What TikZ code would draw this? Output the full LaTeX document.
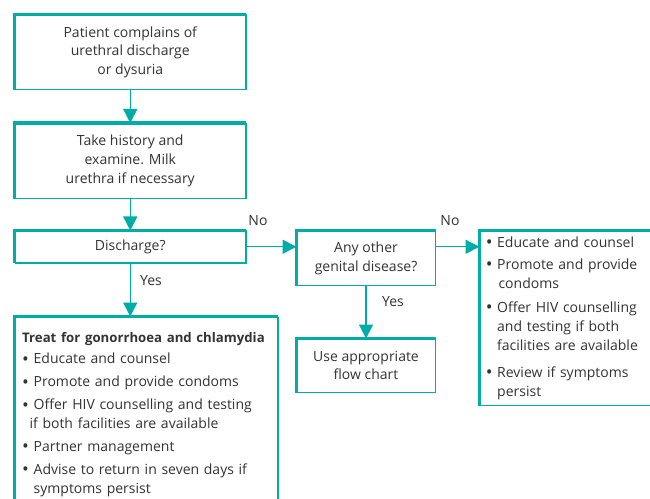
\documentclass[tikz,border=0pt]{standalone}
\usepackage{fontspec}
\setmainfont{Open Sans}
\usetikzlibrary{arrows.meta}

\definecolor{flowteal}{RGB}{0,172,168}
\definecolor{flowtext}{RGB}{51,51,51}

% larger bullet, as in the reference lists
\newcommand{\itembullet}{\raisebox{-0.9pt}{\fontsize{13.5}{14}\selectfont\textbullet}}

\begin{document}
\begin{tikzpicture}[x=0.75pt, y=-0.75pt,
  font=\fontsize{10.5}{14}\selectfont, text=flowtext,
  box/.style={inner sep=0pt, align=center, anchor=north west},
  listbox/.style={inner xsep=5.6pt, align=left, anchor=north west},
  edgethick/.style={flowteal, line width=2.6pt, line join=miter},
  edgethin/.style={flowteal, line width=1.1pt},
  flowarrow/.style={flowteal, line width=1.1pt, -{Triangle[length=10.5pt, width=10.5pt]}},
  answer/.style={inner sep=0pt}]

  % page size = reference picture, boxes run off the right and bottom edge
  \useasboundingbox (0,0) rectangle (650,499);
  \clip (0,0) rectangle (650,499);

  % === left column ===
  \node[box, minimum width=173.25pt, minimum height=55.9pt] (patient) at (14.5,14.5)
    {Patient complains of\\urethral discharge\\or dysuria};
  \node[box, minimum width=173.25pt, minimum height=56.25pt] (history) at (14.5,123)
    {Take history and\\examine. Milk\\urethra if necessary};
  \node[box, minimum width=173.25pt, minimum height=24pt] (discharge) at (14.5,230.5)
    {Discharge?};

  % treatment box (bottom edge is cut off)
  \node[listbox, text width=186pt, inner ysep=12pt] (treat) at (14.5,316.5)
    {\mbox{\fontsize{9.9}{14}\selectfont\bfseries Treat for gonorrhoea and chlamydia}\\[1.75pt]
     \itembullet\ Educate and counsel\\[3.25pt]
     \itembullet\ Promote and provide condoms\\[3.25pt]
     \itembullet\ Offer HIV counselling and testing\\
     \hspace*{5.5pt}if both facilities are available\\[3.25pt]
     \itembullet\ Partner management\\[3.25pt]
     \itembullet\ Advise to return in seven days if\\
     \phantom{\itembullet\ }symptoms persist\\[12pt]};

  % === middle column ===
  \node[box, minimum width=103.9pt, minimum height=40.9pt] (other) at (296.5,230.5)
    {Any other\\genital disease?};
  \node[box, minimum width=103.9pt, minimum height=40.1pt] (flow) at (296.5,338.5)
    {Use appropriate\\flow chart};

  % === right column (right edge is cut off) ===
  \node[listbox, text width=130pt, inner xsep=4.5pt, inner ysep=4.5pt] (advice) at (479.5,230.5)
    {\itembullet\ Educate and counsel\\[2.5pt]
     \itembullet\ Promote and provide\\
     \phantom{\itembullet\ }\hspace*{1pt}condoms\\[4.5pt]
     \itembullet\ Offer HIV counselling\\
     \phantom{\itembullet\ }and testing if both\\
     \phantom{\itembullet\ }facilities are available\\[6.5pt]
     \itembullet\ Review if symptoms\\
     \phantom{\itembullet\ }persist\\[2pt]};

  % box edges: thin right/bottom, thick left/top
  \foreach \n in {patient,history,discharge,treat,other,flow,advice} {
    \draw[edgethin] (\n.north east) -- (\n.south east) -- (\n.south west);
    \draw[edgethick] (\n.south west) -- (\n.north west) -- (\n.north east);
  }

  % === connectors ===
  \draw[flowarrow] (patient.south) -- (history.north);
  \draw[flowarrow] (history.south) -- (discharge.north);
  \draw[flowarrow] (discharge.east) -- (discharge.east -| other.west);
  \draw[flowarrow] (discharge.east -| other.east) -- (discharge.east -| advice.west);
  \draw[flowarrow] (discharge.south) -- (discharge.south |- treat.north);
  \draw[flowarrow] (other.south) -- (flow.north);

  % answers
  \node[answer] (noleft) at (258,221) {No};
  \node[answer] (noright) at (450,221) {No};
  \node[answer] (yesleft) at (151,281) {Yes};
  \node[answer] (yesright) at (393,302) {Yes};
\end{tikzpicture}
\end{document}
